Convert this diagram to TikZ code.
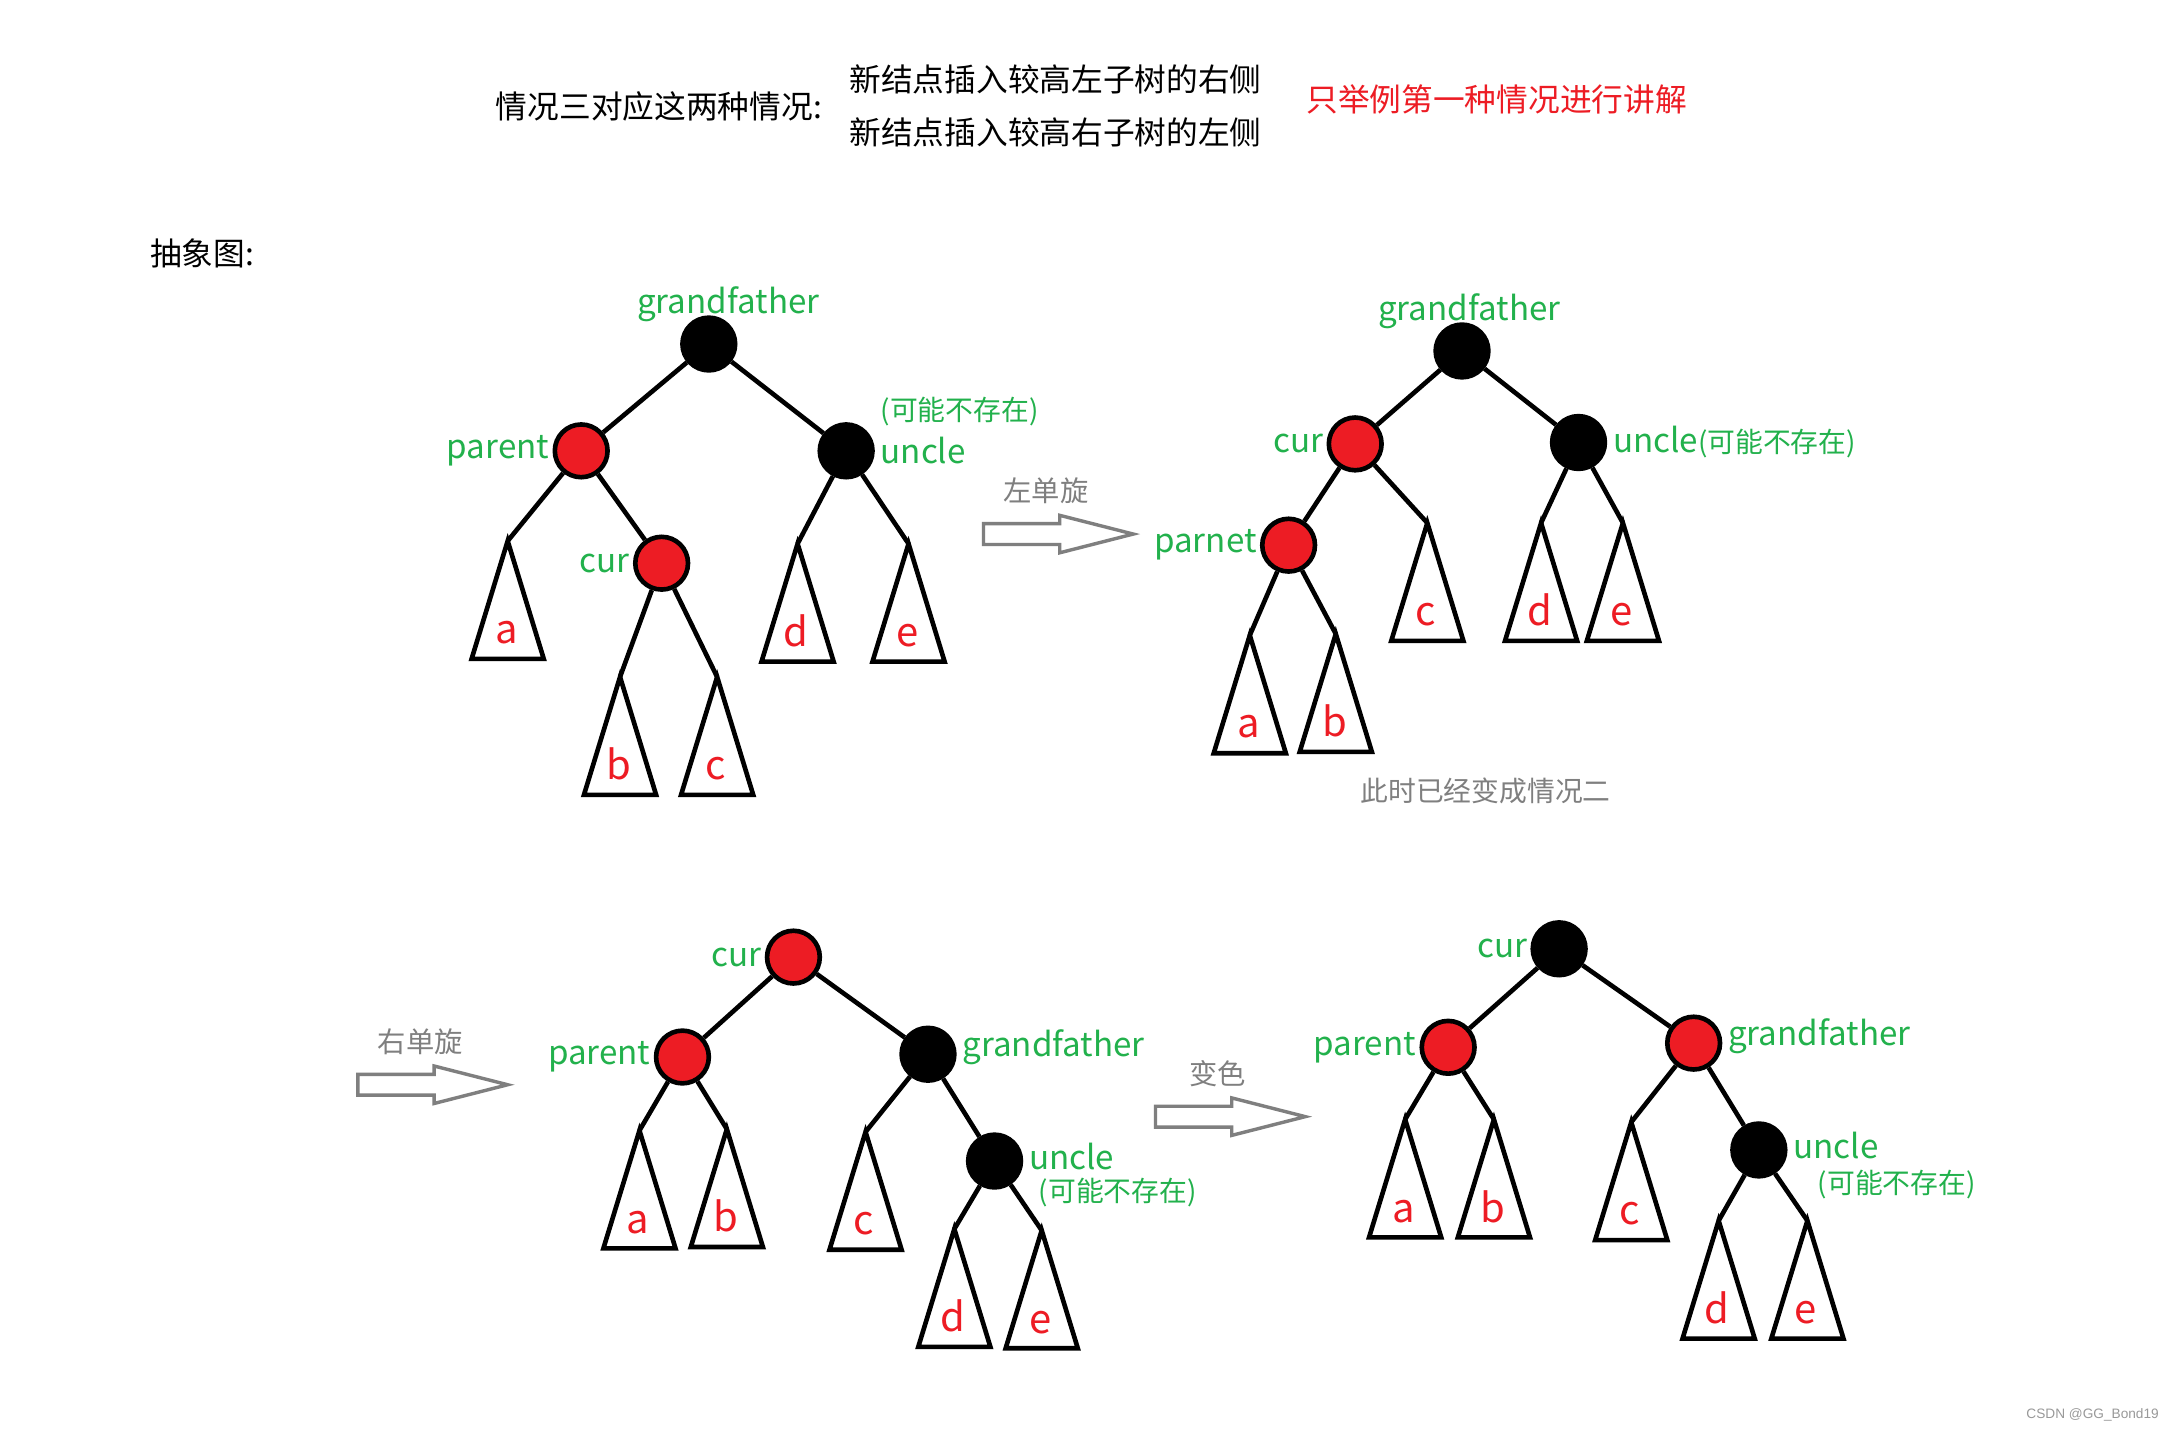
\documentclass[tikz,border=0pt]{standalone}
\usepackage{fontspec}
\setmainfont{Noto Sans CJK SC}
\newfontfamily\wmfont{Liberation Sans}
\usepackage{tikz}
\usetikzlibrary{positioning}
\definecolor{RBred}{RGB}{237,28,36}
\definecolor{RBgreen}{RGB}{34,177,76}
\definecolor{RBgray}{RGB}{127,127,127}
\tikzstyle{tnode} = [circle, draw=black, line width=0.95pt,
                     minimum size=0.38cm, inner sep=0pt]
\tikzstyle{Nred}  = [tnode, fill=RBred]
\tikzstyle{Nblk}  = [tnode, fill=black]
\tikzstyle{tline} = [line width=0.95pt]
\tikzstyle{subtri}= [line width=0.95pt, line join=miter]
\tikzstyle{Lgrn}  = [text=RBgreen, inner sep=1pt, font=\fontsize{6.8pt}{7.5pt}\selectfont]
\tikzstyle{Lnote} = [text=RBgreen, inner sep=1pt, font=\fontsize{5.7pt}{6.5pt}\selectfont]
\tikzstyle{Lsub}  = [text=RBred, inner sep=0pt, font=\fontsize{8.2pt}{9pt}\selectfont]
\tikzstyle{Barw}  = [draw=RBgray, line width=0.7pt, line join=miter]
\tikzstyle{Larw}  = [text=RBgray, inner sep=1pt, font=\fontsize{5.8pt}{6.5pt}\selectfont]
\tikzstyle{Ttxt}  = [inner sep=1pt, font=\fontsize{6.5pt}{7pt}\selectfont]
% subtree triangle: name, apex, letter
\newcommand{\subtree}[3]{%
  \coordinate (#1) at #2;
  \draw[subtri] (#1) -- ++(-26,85) -- ++(52,0) -- cycle;
  \path (#1) ++(-1,74) node[Lsub, anchor=base] {#3};
}
% hollow arrow: name, tail, text
\newcommand{\hollowarrow}[3]{%
  \coordinate (#1) at #2;
  \draw[Barw] (#1) ++(0,-7.5) -- ++(55,0) -- ++(0,-6) -- ++(53,13.5)
    -- ++(-53,13.5) -- ++(0,-6) -- ++(-55,0) -- cycle;
  \path (#1) ++(45,-31) node[Larw] {#3};
}
\begin{document}
\begin{tikzpicture}[x=0.01cm, y=-0.01cm]
  \fill[white] (0,0) rectangle (1568,1032);
  \useasboundingbox (0,0) rectangle (1568,1032);

  % heading
  \node[Ttxt] (hd) at (475,77) {情况三对应这两种情况:};
  \node[Ttxt] (hl1) at (761,57) {新结点插入较高左子树的右侧};
  \node[Ttxt, below=2.5pt of hl1] (hl2) {新结点插入较高右子树的左侧};
  \node[Ttxt, text=RBred] (hnote) at (1079,72) {只举例第一种情况进行讲解};
  \node[Ttxt, anchor=west] (abs) at (104,183) {抽象图:};

  % tree 1
  \node[Nblk] (gf1) at (511,248) {};
  \node[Nred] (pa1) at (419,325) {};
  \node[Nblk] (un1) at (610,325) {};
  \node[Nred] (cu1) at (477,406) {};
  \subtree{ta1}{(366,390)}{a}
  \subtree{tb1}{(447,488)}{b}
  \subtree{tc1}{(517,488)}{c}
  \subtree{td1}{(575,392)}{d}
  \subtree{te1}{(655,392)}{e}
  \draw[tline] (gf1) -- (pa1);
  \draw[tline] (gf1) -- (un1);
  \draw[tline] (pa1) -- (ta1);
  \draw[tline] (pa1) -- (cu1);
  \draw[tline] (cu1) -- (tb1);
  \draw[tline] (cu1) -- (tc1);
  \draw[tline] (un1) -- (td1);
  \draw[tline] (un1) -- (te1);
  \node[Lgrn, above=-2.5pt of gf1, xshift=4pt] {grandfather};
  \node[Lgrn, left=-0.5pt of pa1] {parent};
  \node[Lgrn, left=-0.5pt of cu1] {cur};
  \node[Lgrn, right=0pt of un1] (unl1) {uncle};
  \node[Lnote, anchor=south west] at (unl1.north west) {(可能不存在)};

  \hollowarrow{ar1}{(709,385)}{左单旋}

  % tree 2
  \node[Nblk] (gf2) at (1054,253) {};
  \node[Nred] (cu2) at (977,320) {};
  \node[Nblk] (un2) at (1138,319) {};
  \node[Nred] (pn2) at (929,393) {};
  \subtree{ta2}{(901,458)}{a}
  \subtree{tb2}{(963,457)}{b}
  \subtree{tc2}{(1029,377)}{c}
  \subtree{td2}{(1111,377)}{d}
  \subtree{te2}{(1170,377)}{e}
  \draw[tline] (gf2) -- (cu2);
  \draw[tline] (gf2) -- (un2);
  \draw[tline] (cu2) -- (pn2);
  \draw[tline] (cu2) -- (tc2);
  \draw[tline] (pn2) -- (ta2);
  \draw[tline] (pn2) -- (tb2);
  \draw[tline] (un2) -- (td2);
  \draw[tline] (un2) -- (te2);
  \node[Lgrn, above=-2.5pt of gf2, xshift=1.5pt] {grandfather};
  \node[Lgrn, left=-0.5pt of cu2] {cur};
  \node[Lgrn, left=-0.5pt of pn2] {parnet};
  \node[Lgrn, right=0pt of un2] {uncle{\fontsize{5.7pt}{6.5pt}\selectfont(可能不存在)}};
  \node[Larw, font=\fontsize{5.7pt}{6.5pt}\selectfont] (now2) at (1071,570) {此时已经变成情况二};

  \hollowarrow{ar2}{(258,782)}{右单旋}

  % tree 3
  \node[Nred] (cu3) at (572,690) {};
  \node[Nred] (pa3) at (492,762) {};
  \node[Nblk] (gf3) at (669,760) {};
  \node[Nblk] (un3) at (717,837) {};
  \subtree{ta3}{(461,815)}{a}
  \subtree{tb3}{(524,814)}{b}
  \subtree{tc3}{(624,816)}{c}
  \subtree{td3}{(688,886)}{d}
  \subtree{te3}{(751,887)}{e}
  \draw[tline] (cu3) -- (pa3);
  \draw[tline] (cu3) -- (gf3);
  \draw[tline] (pa3) -- (ta3);
  \draw[tline] (pa3) -- (tb3);
  \draw[tline] (gf3) -- (tc3);
  \draw[tline] (gf3) -- (un3);
  \draw[tline] (un3) -- (td3);
  \draw[tline] (un3) -- (te3);
  \node[Lgrn, left=-0.5pt of cu3] {cur};
  \node[Lgrn, left=-0.5pt of pa3] {parent};
  \node[Lgrn, right=0pt of gf3, yshift=1.5pt] {grandfather};
  \node[Lgrn, right=0pt of un3, yshift=1pt] (unl3) {uncle};
  \node[Lnote, anchor=north west, xshift=2pt, yshift=0.7pt] at (unl3.south west) {(可能不存在)};

  \hollowarrow{ar3}{(833,805)}{变色}

  % tree 4
  \node[Nblk] (cu4) at (1124,684) {};
  \node[Nred] (pa4) at (1044,755) {};
  \node[Nred] (gf4) at (1221,752) {};
  \node[Nblk] (un4) at (1268,829) {};
  \subtree{ta4}{(1013,807)}{a}
  \subtree{tb4}{(1077,807)}{b}
  \subtree{tc4}{(1176,809)}{c}
  \subtree{td4}{(1239,880)}{d}
  \subtree{te4}{(1303,880)}{e}
  \draw[tline] (cu4) -- (pa4);
  \draw[tline] (cu4) -- (gf4);
  \draw[tline] (pa4) -- (ta4);
  \draw[tline] (pa4) -- (tb4);
  \draw[tline] (gf4) -- (tc4);
  \draw[tline] (gf4) -- (un4);
  \draw[tline] (un4) -- (td4);
  \draw[tline] (un4) -- (te4);
  \node[Lgrn, left=-0.5pt of cu4] {cur};
  \node[Lgrn, left=-0.5pt of pa4] {parent};
  \node[Lgrn, right=0pt of gf4, yshift=1.5pt] {grandfather};
  \node[Lgrn, right=0pt of un4, yshift=1pt] (unl4) {uncle};
  \node[Lnote, anchor=north west, xshift=5pt] at (unl4.south west) {(可能不存在)};

  \node[text=black!40, inner sep=0pt, anchor=east, font=\wmfont\fontsize{2.8pt}{3pt}\selectfont] (wm) at (1557,1020) {CSDN @GG\_Bond19};

\end{tikzpicture}
\end{document}
